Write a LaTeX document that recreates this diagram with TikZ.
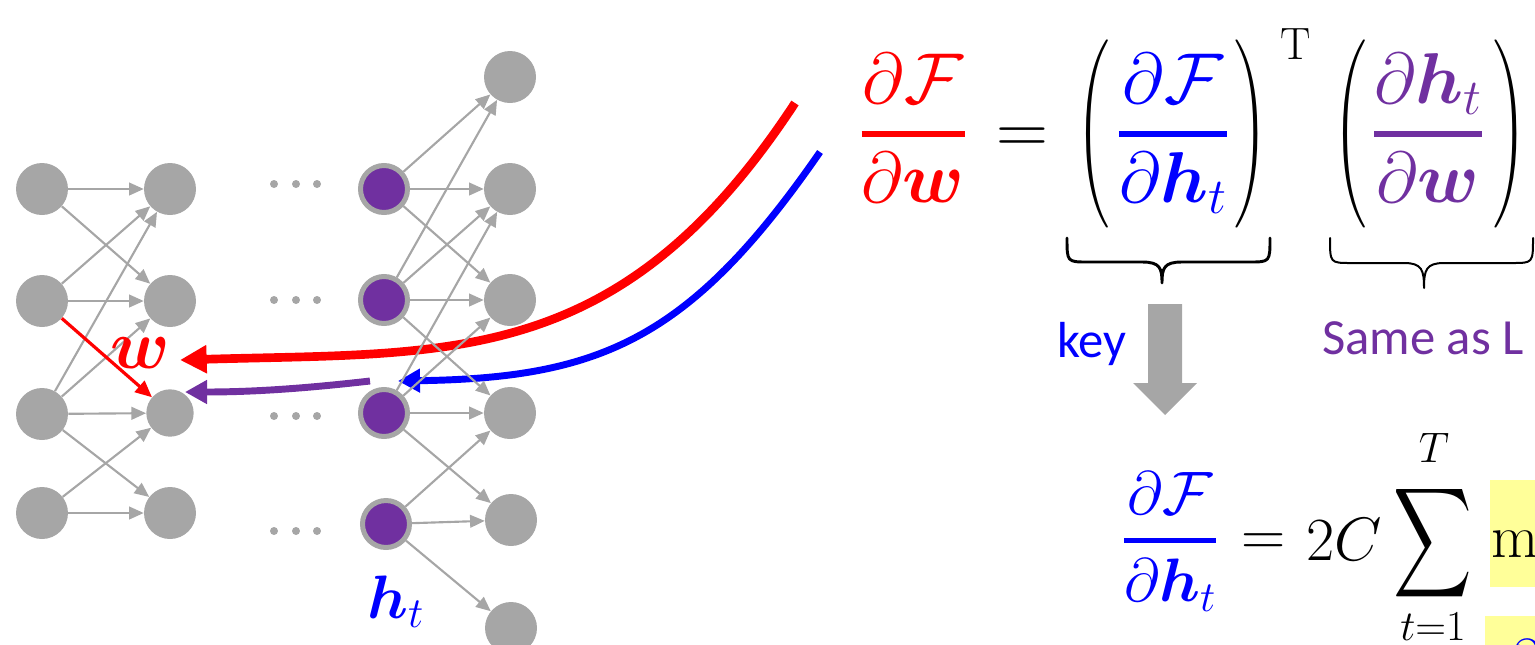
\RequirePackage{fix-cm}
\documentclass[tikz,border=0pt]{standalone}
\usepackage{amsmath,bm,graphicx}
\usepackage{fontspec}
\newfontfamily\calibri{Carlito}
\usetikzlibrary{arrows.meta}
\definecolor{ngrey}{HTML}{A6A6A6}
\definecolor{npurple}{HTML}{7030A0}
\definecolor{nyellow}{HTML}{FFFF99}
\begin{document}
\begin{tikzpicture}[x=0.75pt,y=-0.75pt,
  gnode/.style={circle,fill=ngrey,inner sep=0pt,minimum size=39pt},
  snode/.style={circle,fill=ngrey,inner sep=0pt,minimum size=35.5pt},
  pnode/.style={circle,fill=npurple,draw=ngrey,line width=3.75pt,inner sep=0pt,minimum size=35.25pt},
  dotst/.style={circle,fill=ngrey,inner sep=0pt,minimum size=6pt},
  conn/.style={draw=ngrey,line width=1.6pt,-{Triangle[length=11pt,width=9.5pt]}},
  redthin/.style={draw=red,line width=2.4pt,-{Triangle[length=12.5pt,width=11pt]}},
  eqtext/.style={inner sep=0pt,anchor=base},
  brace/.style={draw=black,line width=#1,line cap=round,line join=round},
  sans/.style={inner sep=0pt,anchor=base west,font=\calibri\fontsize{38}{40}\selectfont}
]
\useasboundingbox (0,0) rectangle (1535,644);
\clip (0,0) rectangle (1535,644);

% ---------- long curved arrows ----------
\coordinate (rs) at (795,103);
\coordinate (re) at (180,360);
\coordinate (bs) at (820,152);
\coordinate (be) at (398,381);
\coordinate (ps) at (370,381);
\coordinate (pe) at (185,392);
\draw[red,line width=6.5pt,-{Triangle[length=20pt,width=20pt]}] (rs) .. controls (620,370) and (450,352) .. (re);
\draw[blue,line width=5.2pt,-{Triangle[length=16.5pt,width=17pt]}] (bs) .. controls (690,340) and (600,378) .. (be);
\draw[npurple,line width=5.2pt,-{Triangle[length=16.5pt,width=17pt]}] (ps) .. controls (300,389) and (250,392) .. (pe);

% ---------- network nodes ----------
\node[gnode] (a1) at (42,189) {};
\node[gnode] (a2) at (42,301) {};
\node[gnode] (a3) at (42,414) {};
\node[gnode] (a4) at (42,513) {};
\node[gnode] (b1) at (170,189) {};
\node[gnode] (b2) at (170,301) {};
\node[snode] (b3) at (170,413) {};
\node[gnode] (b4) at (170,513) {};
\node[pnode] (p1) at (384,189) {};
\node[pnode] (p2) at (384,300) {};
\node[pnode] (p3) at (384,413) {};
\node[pnode] (p4) at (386,524) {};
\node[gnode] (q1) at (510,77) {};
\node[gnode] (q2) at (510,189) {};
\node[gnode] (q3) at (510,300) {};
\node[gnode] (q4) at (510,413) {};
\node[gnode] (q5) at (511,520) {};
\node[gnode] (q6) at (511,628) {};

\foreach \yy [count=\i] in {184,300,416,531}{
  \node[dotst] (d\i a) at (274,\yy) {};
  \node[dotst] (d\i b) at (296,\yy) {};
  \node[dotst] (d\i c) at (317,\yy) {};
}

% ---------- grey connections ----------
\foreach \s/\t in {a1/b1,a1/b2,a2/b1,a2/b2,a3/b1,a3/b2,a3/b3,a3/b4,a4/b3,a4/b4,
                   p1/q1,p1/q2,p1/q3,p2/q1,p2/q2,p2/q3,p2/q4,p3/q2,p3/q3,p3/q4,p3/q5,p4/q4,p4/q5,p4/q6}
  \draw[conn] (\s) -- (\t);
\draw[redthin] (a2) -- (b3);

% ---------- labels on network ----------
\node[inner sep=0pt,text=red] (wlab) at (140,353) {\fontsize{52}{56}\selectfont$\bm{w}$};
\node[inner sep=0pt,anchor=base west,text=blue] (hlab) at (367,618) {\fontsize{46}{50}\selectfont$\bm{h}_t$};

% ---------- top equation ----------
\node[eqtext,text=red] (f1) at (913,152) {\fontsize{54}{60}\selectfont$\displaystyle\genfrac{}{}{4pt}{0}{\partial\mathcal{F}}{\partial\bm{w}}$};
\node[eqtext] (eq1) at (1022,153) {\fontsize{54}{60}\selectfont$=$};
\node[inner sep=0pt] (lp1) at (1093,134) {\resizebox*{25pt}{141pt}{$\Biggl($}};
\node[eqtext,text=blue] (f2) at (1173,152) {\fontsize{54}{60}\selectfont$\displaystyle\genfrac{}{}{4pt}{0}{\partial\mathcal{F}}{\partial\bm{h}_t}$};
\node[inner sep=0pt] (rp1) at (1251,134) {\resizebox*{25pt}{141pt}{$\Biggr)$}};
\node[inner sep=0pt] (tsup) at (1296,44) {\fontsize{34}{36}\selectfont$\mathrm{T}$};
\node[inner sep=0pt] (lp2) at (1350,134) {\resizebox*{25pt}{141pt}{$\Biggl($}};
\node[eqtext,text=npurple] (f3) at (1428,152) {\fontsize{54}{60}\selectfont$\displaystyle\genfrac{}{}{4pt}{0}{\partial\bm{h}_t}{\partial\bm{w}}$};
\node[inner sep=0pt] (rp2) at (1510,134) {\resizebox*{25pt}{141pt}{$\Biggr)$}};

% ---------- braces ----------
\draw[brace=2.2pt] (1067,238) .. controls (1067,262) .. (1088,262) -- (1142,262)
  .. controls (1160,262) and (1162,268) .. (1162,283)
  .. controls (1162,268) and (1164,262) .. (1182,262) -- (1249,262)
  .. controls (1270,262) .. (1270,238);
\draw[brace=1.5pt] (1330,238) .. controls (1330,263) .. (1351,263) -- (1404,263)
  .. controls (1422,263) and (1424,270) .. (1424,288)
  .. controls (1424,270) and (1426,263) .. (1444,263) -- (1512,263)
  .. controls (1533,263) .. (1533,238);

% ---------- key arrow and texts ----------
\fill[ngrey] (1148,304) -- (1182,304) -- (1182,383) -- (1197,383) -- (1165,415)
  -- (1133,383) -- (1148,383) -- cycle;
\node[sans,text=blue] (key) at (1057,357) {key};
\node[sans,text=npurple] (same) at (1322,354) {Same as L};

% ---------- bottom equation ----------
\fill[nyellow] (1490,480) rectangle (1540,587);
\fill[nyellow] (1485,616) rectangle (1540,650);
\node[eqtext,text=blue] (f4) at (1170,556) {\fontsize{46}{50}\selectfont$\displaystyle\genfrac{}{}{4pt}{0}{\partial\mathcal{F}}{\partial\bm{h}_t}$};
\node[eqtext] (eq2) at (1264,555) {\fontsize{46}{50}\selectfont$=$};
\node[eqtext] (twoc) at (1344,560) {\fontsize{46}{50}\selectfont$2C$};
\node[inner sep=0pt] (sig) at (1433,543) {\resizebox*{59pt}{92pt}{$\displaystyle\sum$}};
\node[inner sep=0pt] (supT) at (1434,448) {\fontsize{32}{34}\selectfont$T$};
\node[inner sep=0pt] (subt) at (1433,627) {\fontsize{32}{34}\selectfont$t{=}1$};
\node[inner sep=0pt,anchor=base west] (mm) at (1491,557) {\fontsize{46}{50}\selectfont$\mathrm{m}$};
\node[inner sep=0pt,anchor=base west,text=blue] (dd) at (1506,682) {\fontsize{46}{50}\selectfont$\partial$};
\end{tikzpicture}
\end{document}
